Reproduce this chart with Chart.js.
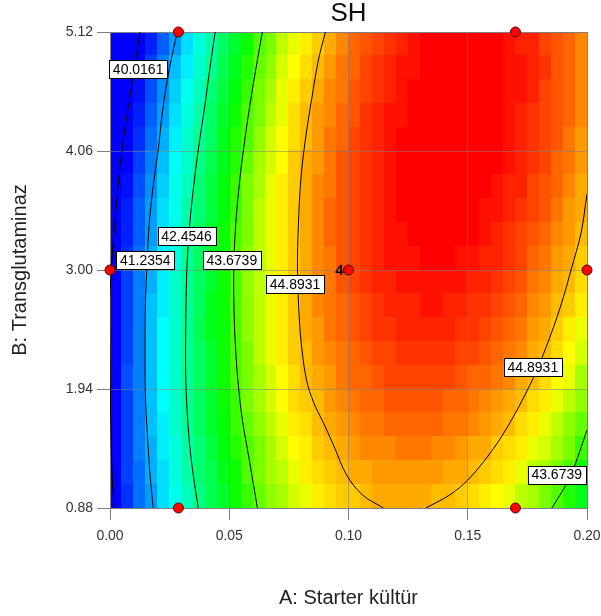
<!DOCTYPE html>
<html>
<head>
<meta charset="utf-8">
<script src="https://cdn.jsdelivr.net/npm/chart.js@4.4.1/dist/chart.umd.min.js"></script>
<style>
  html, body { margin: 0; padding: 0; background: #fff; }
  #wrap { width: 601px; height: 616px; }
</style>
</head>
<body>
<div id="wrap"><canvas id="chart" width="601" height="616"></canvas></div>
<script>
// asse A: Starter kültür, asse B: Transglutaminaz, risposta SH
const starterTicks = [0, 0.05, 0.10, 0.15, 0.20];
const transTicks = [0.88, 1.94, 3.00, 4.06, 5.12];

const shGrid = [
  [39.2,39.7,40.1,40.5,40.9,41.3,41.7,42.1,42.4,42.8,43.1,43.4,43.7,43.9,44.2,44.4,44.6,44.8,45.0,45.2,45.4,45.5,45.6,45.7,45.8,45.9,46.0,46.0,46.0,46.0,46.0,46.0,46.0,45.9,45.8,45.8,45.6,45.5,45.4,45.2],
  [39.3,39.8,40.2,40.7,41.1,41.5,41.8,42.2,42.5,42.9,43.2,43.5,43.8,44.0,44.3,44.5,44.7,44.9,45.1,45.3,45.4,45.6,45.7,45.8,45.9,45.9,46.0,46.0,46.1,46.1,46.1,46.0,46.0,45.9,45.9,45.8,45.7,45.5,45.4,45.2],
  [39.5,39.9,40.4,40.8,41.2,41.6,42.0,42.3,42.7,43.0,43.3,43.6,43.9,44.1,44.4,44.6,44.8,45.0,45.2,45.3,45.5,45.6,45.7,45.8,45.9,46.0,46.0,46.1,46.1,46.1,46.1,46.0,46.0,45.9,45.9,45.8,45.6,45.5,45.4,45.2],
  [39.6,40.1,40.5,40.9,41.3,41.7,42.1,42.4,42.8,43.1,43.4,43.7,43.9,44.2,44.4,44.7,44.9,45.1,45.2,45.4,45.5,45.7,45.8,45.9,45.9,46.0,46.1,46.1,46.1,46.1,46.1,46.0,46.0,45.9,45.8,45.7,45.6,45.5,45.4,45.2],
  [39.7,40.2,40.6,41.0,41.4,41.8,42.2,42.5,42.8,43.2,43.5,43.7,44.0,44.3,44.5,44.7,44.9,45.1,45.3,45.4,45.6,45.7,45.8,45.9,46.0,46.0,46.1,46.1,46.1,46.1,46.1,46.0,46.0,45.9,45.8,45.7,45.6,45.5,45.3,45.1],
  [39.8,40.3,40.7,41.1,41.5,41.9,42.2,42.6,42.9,43.2,43.5,43.8,44.1,44.3,44.5,44.8,45.0,45.1,45.3,45.5,45.6,45.7,45.8,45.9,46.0,46.0,46.1,46.1,46.1,46.1,46.1,46.0,46.0,45.9,45.8,45.7,45.6,45.4,45.3,45.1],
  [39.9,40.4,40.8,41.2,41.6,42.0,42.3,42.7,43.0,43.3,43.6,43.9,44.1,44.4,44.6,44.8,45.0,45.2,45.3,45.5,45.6,45.7,45.8,45.9,46.0,46.0,46.1,46.1,46.1,46.1,46.0,46.0,45.9,45.8,45.8,45.6,45.5,45.4,45.2,45.0],
  [40.0,40.5,40.9,41.3,41.7,42.0,42.4,42.7,43.0,43.3,43.6,43.9,44.2,44.4,44.6,44.8,45.0,45.2,45.4,45.5,45.6,45.7,45.8,45.9,46.0,46.0,46.0,46.1,46.1,46.0,46.0,45.9,45.9,45.8,45.7,45.6,45.5,45.3,45.1,45.0],
  [40.1,40.5,40.9,41.3,41.7,42.1,42.4,42.8,43.1,43.4,43.7,43.9,44.2,44.4,44.6,44.8,45.0,45.2,45.4,45.5,45.6,45.7,45.8,45.9,45.9,46.0,46.0,46.0,46.0,46.0,46.0,45.9,45.8,45.7,45.6,45.5,45.4,45.2,45.1,44.9],
  [40.2,40.6,41.0,41.4,41.8,42.1,42.5,42.8,43.1,43.4,43.7,44.0,44.2,44.4,44.6,44.8,45.0,45.2,45.3,45.5,45.6,45.7,45.8,45.9,45.9,45.9,46.0,46.0,46.0,45.9,45.9,45.8,45.8,45.7,45.6,45.4,45.3,45.1,45.0,44.8],
  [40.2,40.7,41.1,41.4,41.8,42.2,42.5,42.8,43.1,43.4,43.7,44.0,44.2,44.4,44.6,44.8,45.0,45.2,45.3,45.5,45.6,45.7,45.8,45.8,45.9,45.9,45.9,45.9,45.9,45.9,45.8,45.8,45.7,45.6,45.5,45.3,45.2,45.0,44.9,44.7],
  [40.3,40.7,41.1,41.5,41.8,42.2,42.5,42.8,43.2,43.4,43.7,44.0,44.2,44.4,44.6,44.8,45.0,45.2,45.3,45.4,45.5,45.6,45.7,45.8,45.8,45.8,45.9,45.9,45.8,45.8,45.7,45.7,45.6,45.5,45.4,45.2,45.1,44.9,44.8,44.6],
  [40.3,40.7,41.1,41.5,41.9,42.2,42.5,42.9,43.2,43.4,43.7,44.0,44.2,44.4,44.6,44.8,45.0,45.1,45.3,45.4,45.5,45.6,45.7,45.7,45.8,45.8,45.8,45.8,45.8,45.7,45.7,45.6,45.5,45.4,45.3,45.1,45.0,44.8,44.6,44.4],
  [40.3,40.7,41.1,41.5,41.9,42.2,42.5,42.8,43.1,43.4,43.7,43.9,44.2,44.4,44.6,44.8,44.9,45.1,45.2,45.3,45.4,45.5,45.6,45.6,45.7,45.7,45.7,45.7,45.7,45.6,45.6,45.5,45.4,45.3,45.2,45.0,44.9,44.7,44.5,44.3],
  [40.3,40.8,41.1,41.5,41.9,42.2,42.5,42.8,43.1,43.4,43.7,43.9,44.1,44.3,44.5,44.7,44.9,45.0,45.1,45.3,45.4,45.4,45.5,45.6,45.6,45.6,45.6,45.6,45.6,45.5,45.4,45.4,45.3,45.2,45.0,44.9,44.7,44.5,44.4,44.1],
  [40.3,40.7,41.1,41.5,41.9,42.2,42.5,42.8,43.1,43.4,43.6,43.9,44.1,44.3,44.5,44.7,44.8,44.9,45.1,45.2,45.3,45.4,45.4,45.5,45.5,45.5,45.5,45.5,45.4,45.4,45.3,45.2,45.1,45.0,44.9,44.7,44.6,44.4,44.2,44.0],
  [40.3,40.7,41.1,41.5,41.8,42.2,42.5,42.8,43.1,43.3,43.6,43.8,44.0,44.2,44.4,44.6,44.7,44.9,45.0,45.1,45.2,45.3,45.3,45.4,45.4,45.4,45.4,45.4,45.3,45.3,45.2,45.1,45.0,44.9,44.7,44.6,44.4,44.2,44.0,43.8],
  [40.3,40.7,41.1,41.4,41.8,42.1,42.4,42.7,43.0,43.3,43.5,43.7,43.9,44.1,44.3,44.5,44.6,44.8,44.9,45.0,45.1,45.2,45.2,45.2,45.3,45.3,45.3,45.2,45.2,45.1,45.0,45.0,44.8,44.7,44.6,44.4,44.3,44.1,43.9,43.6],
  [40.3,40.7,41.0,41.4,41.7,42.1,42.4,42.7,42.9,43.2,43.4,43.7,43.9,44.1,44.2,44.4,44.6,44.7,44.8,44.9,45.0,45.0,45.1,45.1,45.1,45.1,45.1,45.1,45.0,45.0,44.9,44.8,44.7,44.6,44.4,44.2,44.1,43.9,43.7,43.4],
  [40.2,40.6,41.0,41.3,41.7,42.0,42.3,42.6,42.9,43.1,43.4,43.6,43.8,44.0,44.1,44.3,44.4,44.6,44.7,44.8,44.8,44.9,45.0,45.0,45.0,45.0,45.0,44.9,44.9,44.8,44.7,44.6,44.5,44.4,44.2,44.1,43.9,43.7,43.5,43.2]
];

// curve di livello (A, B)
const contour40 = [
  {x: 0.0126, y: 5.12}, {x: 0.0088, y: 4.603}, {x: 0.0050, y: 4.069}, {x: 0.0025, y: 3.534},
  {x: 0.0008, y: 3.089}, {x: 0.0000, y: 2.733}, {x: 0.0001, y: 2.198}, {x: 0.0003, y: 1.664},
  {x: 0.0008, y: 1.218}, {x: 0.0017, y: 0.88}
];
const contour41 = [
  {x: 0.0282, y: 5.12}, {x: 0.0248, y: 4.782}, {x: 0.0221, y: 4.425}, {x: 0.0202, y: 4.069},
  {x: 0.0179, y: 3.713}, {x: 0.0164, y: 3.401}, {x: 0.0156, y: 3.089}, {x: 0.0149, y: 2.733},
  {x: 0.0147, y: 2.287}, {x: 0.0149, y: 1.842}, {x: 0.0158, y: 1.486}, {x: 0.0168, y: 1.174},
  {x: 0.0181, y: 0.88}
];
const contour42 = [
  {x: 0.0441, y: 5.12}, {x: 0.0418, y: 4.782}, {x: 0.0395, y: 4.425}, {x: 0.0370, y: 4.069},
  {x: 0.0349, y: 3.713}, {x: 0.0334, y: 3.401}, {x: 0.0324, y: 3.089}, {x: 0.0319, y: 2.733},
  {x: 0.0317, y: 2.287}, {x: 0.0319, y: 1.931}, {x: 0.0332, y: 1.486}, {x: 0.0349, y: 1.174},
  {x: 0.0370, y: 0.88}
];
const contour43Left = [
  {x: 0.0639, y: 5.12}, {x: 0.0618, y: 4.871}, {x: 0.0590, y: 4.514}, {x: 0.0565, y: 4.158},
  {x: 0.0544, y: 3.802}, {x: 0.0527, y: 3.401}, {x: 0.0519, y: 3.000}, {x: 0.0521, y: 2.555},
  {x: 0.0527, y: 2.287}, {x: 0.0536, y: 2.020}, {x: 0.0555, y: 1.664}, {x: 0.0584, y: 1.308},
  {x: 0.0618, y: 0.88}
];
const contour43Right = [
  {x: 0.2000, y: 1.575}, {x: 0.1983, y: 1.468}, {x: 0.1954, y: 1.290}, {x: 0.1916, y: 1.103},
  {x: 0.1853, y: 0.88}
];
const contour44Left = [
  {x: 0.0903, y: 5.12}, {x: 0.0874, y: 4.871}, {x: 0.0845, y: 4.514}, {x: 0.0819, y: 4.158},
  {x: 0.0800, y: 3.802}, {x: 0.0790, y: 3.401}, {x: 0.0786, y: 3.000}, {x: 0.0794, y: 2.555},
  {x: 0.0805, y: 2.287}, {x: 0.0824, y: 2.020}, {x: 0.0853, y: 1.824}, {x: 0.0895, y: 1.637},
  {x: 0.0937, y: 1.441}, {x: 0.0992, y: 1.174}, {x: 0.1059, y: 0.996}, {x: 0.1147, y: 0.88}
];
const contour44Right = [
  {x: 0.1324, y: 0.88}, {x: 0.1424, y: 0.996}, {x: 0.1500, y: 1.129}, {x: 0.1588, y: 1.352},
  {x: 0.1664, y: 1.593}, {x: 0.1761, y: 1.976}, {x: 0.1824, y: 2.287}, {x: 0.1891, y: 2.688},
  {x: 0.1933, y: 3.000}, {x: 0.1975, y: 3.330}, {x: 0.2000, y: 3.677}
];

const contourLabels = [
  {text: '40.0161', x: 0.0118, y: 4.790},
  {text: '42.4546', x: 0.0321, y: 3.300},
  {text: '41.2354', x: 0.0148, y: 3.092},
  {text: '43.6739', x: 0.0511, y: 3.092},
  {text: '44.8931', x: 0.0776, y: 2.874},
  {text: '44.8931', x: 0.1773, y: 2.132},
  {text: '43.6739', x: 0.1873, y: 1.178}
];

// punti del disegno sperimentale
const designPoints = [
  {x: 0.0287, y: 5.12}, {x: 0.170, y: 5.12},
  {x: 0.000, y: 3.00}, {x: 0.100, y: 3.00}, {x: 0.200, y: 3.00},
  {x: 0.0287, y: 0.88}, {x: 0.170, y: 0.88}
];
const centerRuns = '4';

const FONT = "'Liberation Sans', Arial, sans-serif";
Chart.defaults.font.family = FONT;

// scala colori blu -> ciano -> verde -> giallo -> rosso
const colorStops = [
  [40.3, [0, 0, 255]],
  [41.9, [0, 255, 255]],
  [43.35, [0, 255, 0]],
  [44.5, [255, 255, 0]],
  [46.0, [255, 0, 0]]
];
function shColor(v) {
  if (v <= colorStops[0][0]) return 'rgb(0,0,255)';
  for (let k = 1; k < colorStops.length; k++) {
    const [v1, c1] = colorStops[k];
    if (v <= v1) {
      const [v0, c0] = colorStops[k - 1];
      const t = (v - v0) / (v1 - v0);
      const c = c0.map((a, n) => Math.round(a + (c1[n] - a) * t));
      return `rgb(${c[0]},${c[1]},${c[2]})`;
    }
  }
  return 'rgb(255,0,0)';
}

// mappa colori disegnata prima della griglia
const heatmapPlugin = {
  id: 'heatmap',
  beforeDraw(chart) {
    const {ctx, scales: {x, y}} = chart;
    const rows = shGrid.length;
    const cols = shGrid[0].length;
    const dA = (x.max - x.min) / cols;
    const dB = (y.max - y.min) / rows;
    ctx.save();
    shGrid.forEach((row, j) => {
      const yTop = Math.floor(y.getPixelForValue(y.max - j * dB));
      const yBot = Math.ceil(y.getPixelForValue(y.max - (j + 1) * dB));
      row.forEach((v, i) => {
        const xL = Math.floor(x.getPixelForValue(x.min + i * dA));
        const xR = Math.ceil(x.getPixelForValue(x.min + (i + 1) * dA));
        ctx.fillStyle = shColor(v);
        ctx.fillRect(xL, yTop, xR - xL, yBot - yTop);
      });
    });
    ctx.restore();
  }
};

// etichette delle curve e numero di repliche al centro
const labelPlugin = {
  id: 'contourLabels',
  afterDatasetsDraw(chart) {
    const {ctx, scales: {x, y}} = chart;
    ctx.save();
    ctx.font = `14px ${FONT}`;
    ctx.textAlign = 'center';
    ctx.textBaseline = 'middle';
    contourLabels.forEach(l => {
      const px = x.getPixelForValue(l.x);
      const py = y.getPixelForValue(l.y);
      const w = Math.round(ctx.measureText(l.text).width + 7);
      const h = 18;
      const left = Math.round(px - w / 2) + 0.5;
      const top = Math.round(py - h / 2) + 0.5;
      ctx.fillStyle = '#fff';
      ctx.fillRect(left, top, w, h);
      ctx.strokeStyle = '#000';
      ctx.lineWidth = 1;
      ctx.strokeRect(left, top, w, h);
      ctx.fillStyle = '#000';
      ctx.fillText(l.text, px, py + 1);
    });
    ctx.font = `bold 15px ${FONT}`;
    ctx.textAlign = 'right';
    ctx.fillText(centerRuns, x.getPixelForValue(0.1) - 5, y.getPixelForValue(3) + 1);
    ctx.restore();
  }
};

function contourSet(data) {
  return {
    type: 'line',
    data: data,
    borderColor: '#000',
    borderWidth: 1,
    pointRadius: 0,
    tension: 0.35,
    fill: false
  };
}

const edgeGrid = (edges) => (c) =>
  (c.tick && edges.includes(c.tick.value)) ? '#808080' : 'rgba(128,128,128,0.55)';

new Chart(document.getElementById('chart'), {
  type: 'scatter',
  data: {
    datasets: [
      {
        data: designPoints,
        pointRadius: 5,
        pointBackgroundColor: '#ff0000',
        pointBorderColor: '#5a0000',
        pointBorderWidth: 1,
        clip: false
      },
      contourSet(contour40),
      contourSet(contour41),
      contourSet(contour42),
      contourSet(contour43Left),
      contourSet(contour43Right),
      contourSet(contour44Left),
      contourSet(contour44Right)
    ]
  },
  options: {
    responsive: false,
    animation: false,
    layout: { padding: { top: 0, right: 14, bottom: 0, left: 0 } },
    plugins: {
      legend: { display: false },
      tooltip: { enabled: false },
      title: {
        display: true,
        text: 'SH',
        fullSize: false,
        color: '#111',
        font: { size: 26, weight: 'normal', lineHeight: 1.1 },
        padding: { top: 0, bottom: 3.4 }
      }
    },
    scales: {
      x: {
        type: 'linear',
        min: 0,
        max: 0.2,
        afterBuildTicks: s => { s.ticks = starterTicks.map(v => ({ value: v })); },
        afterFit: s => { s.height = 108; s.paddingLeft = 0; s.paddingRight = 0; },
        ticks: {
          callback: v => v.toFixed(2),
          color: '#333',
          font: { size: 14 },
          padding: 8,
          maxRotation: 0,
          autoSkip: false
        },
        grid: { color: edgeGrid([0, 0.2]), tickColor: '#808080', tickLength: 12, lineWidth: 1 },
        border: { color: '#808080' },
        title: {
          display: true,
          text: 'A: Starter kültür',
          color: '#222',
          font: { size: 20 },
          padding: { top: 0, bottom: 6 }
        }
      },
      y: {
        type: 'linear',
        min: 0.88,
        max: 5.12,
        afterBuildTicks: s => { s.ticks = transTicks.map(v => ({ value: v })); },
        afterFit: s => { s.width = 110; s.paddingTop = 0; s.paddingBottom = 0; },
        ticks: {
          callback: v => v.toFixed(2),
          color: '#333',
          font: { size: 14 },
          padding: 4,
          autoSkip: false
        },
        grid: { color: edgeGrid([0.88, 5.12]), tickColor: '#808080', tickLength: 13, lineWidth: 1 },
        border: { color: '#808080' },
        title: {
          display: true,
          text: 'B: Transglutaminaz',
          color: '#222',
          font: { size: 20 },
          padding: { top: 8, bottom: 0 }
        }
      }
    }
  },
  plugins: [heatmapPlugin, labelPlugin]
});
</script>
</body>
</html>
